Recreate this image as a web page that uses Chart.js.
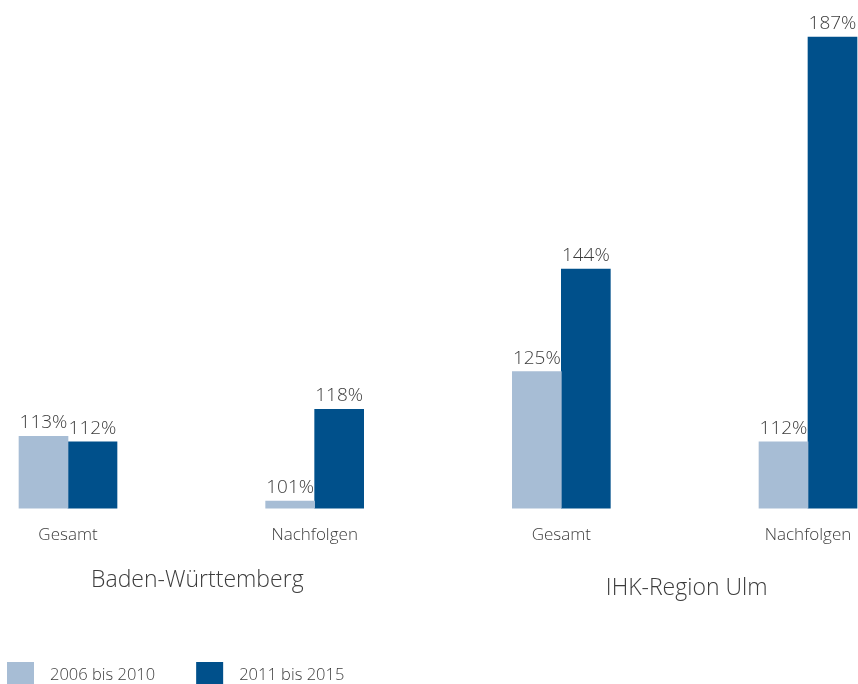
<!DOCTYPE html>
<html lang="de">
<head>
<meta charset="utf-8">
<title>Nachfolgen</title>
<script src="https://cdn.jsdelivr.net/npm/chart.js@4"></script>
<style>
    html, body { margin: 0; padding: 0; background: #fff; }
    #wrap { width: 858px; height: 684px; position: relative; }
</style>
</head>
<body>
<div id="wrap"><canvas id="chart"></canvas></div>
<script>
// Daten
const categories = ['Gesamt', 'Nachfolgen', 'Gesamt', 'Nachfolgen'];
const regions = ['Baden-Württemberg', 'IHK-Region Ulm'];
const seriesNames = ['2006 bis 2010', '2011 bis 2015'];
const values2006 = [113, 101, 125, 112];
const values2011 = [112, 118, 144, 187];

const colors = ['#a7bdd5', '#00508b'];
const textColor = '#3c3c3c';
const fontFamily = '"Open Sans", "Noto Sans", sans-serif';

// Balken dürfen seitlich über den Zeichenbereich hinaus
const barClip = { left: 60, right: 60, top: 30, bottom: 0 };

// Prozentwerte über den Balken
const valueLabels = {
    id: 'valueLabels',
    afterDatasetsDraw(chart) {
        const ctx = chart.ctx;
        ctx.save();
        ctx.font = '300 19px ' + fontFamily;
        ctx.fillStyle = textColor;
        ctx.textAlign = 'center';
        ctx.textBaseline = 'bottom';
        chart.data.datasets.forEach((ds, i) => {
            chart.getDatasetMeta(i).data.forEach((bar, j) => {
                ctx.fillText(ds.data[j] + '%', bar.x, bar.y - 4);
            });
        });
        ctx.restore();
    }
};

// Regionsnamen unter den Kategorien
const regionLabels = {
    id: 'regionLabels',
    afterDraw(chart) {
        const ctx = chart.ctx;
        const x = chart.scales.x;
        const offsets = [{ dx: 6, y: 580 }, { dx: 2, y: 588 }];
        ctx.save();
        ctx.font = '300 23px ' + fontFamily;
        ctx.fillStyle = textColor;
        ctx.textAlign = 'center';
        ctx.textBaseline = 'middle';
        regions.forEach((name, i) => {
            const cx = (x.getPixelForValue(i * 2) + x.getPixelForValue(i * 2 + 1)) / 2;
            ctx.fillText(name, cx + offsets[i].dx, offsets[i].y);
        });
        ctx.restore();
    }
};

// Legende unten links
const boxLegend = {
    id: 'boxLegend',
    afterDraw(chart) {
        const ctx = chart.ctx;
        ctx.save();
        ctx.font = '300 16.5px ' + fontFamily;
        ctx.textBaseline = 'middle';
        ctx.textAlign = 'left';
        let left = 7;
        chart.data.datasets.forEach(ds => {
            ctx.fillStyle = ds.backgroundColor;
            ctx.fillRect(left, 662, 27, 22);
            ctx.fillStyle = textColor;
            ctx.fillText(ds.label, left + 43, 675);
            left += 43 + ctx.measureText(ds.label).width + 41;
        });
        ctx.restore();
    }
};

new Chart(document.getElementById('chart'), {
    type: 'bar',
    data: {
        labels: categories,
        datasets: [
            { label: seriesNames[0], data: values2006, backgroundColor: colors[0], barThickness: 49, clip: barClip },
            { label: seriesNames[1], data: values2011, backgroundColor: colors[1], barThickness: 49, clip: barClip }
        ]
    },
    options: {
        responsive: true,
        maintainAspectRatio: false,
        animation: false,
        layout: {
            padding: { left: 68, right: 50, top: 21, bottom: 123 }
        },
        plugins: {
            legend: { display: false },
            tooltip: { enabled: false }
        },
        scales: {
            x: {
                offset: false,
                grid: { display: false, drawTicks: false },
                border: { display: false },
                ticks: {
                    color: textColor,
                    padding: 16,
                    maxRotation: 0,
                    font: { family: fontFamily, size: 17, weight: '300' }
                },
                // Beschriftungen sollen den Zeichenbereich nicht verschieben
                afterFit(scale) {
                    scale.paddingLeft = 0;
                    scale.paddingRight = 0;
                }
            },
            y: {
                display: false,
                min: 99.6,
                max: 190
            }
        }
    },
    plugins: [valueLabels, regionLabels, boxLegend]
});
</script>
</body>
</html>
